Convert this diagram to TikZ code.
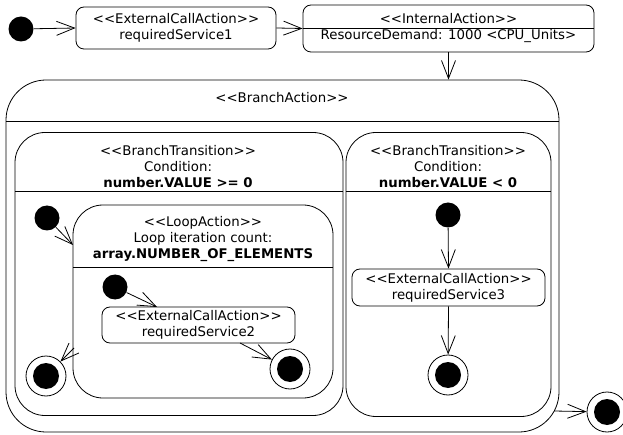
\documentclass[tikz,border=0pt]{standalone}
\usepackage{fontspec}
\setmainfont{DejaVu Sans}
\usetikzlibrary{arrows.meta}
\usetikzlibrary{positioning}

\newcommand{\stereo}[1]{<{}<#1>{}>}

\tikzset{
  initial/.style={circle, fill=black, minimum size=25pt, inner sep=0pt},
  final/.style={circle, draw, fill=white, minimum size=40pt, inner sep=0pt,
    path picture={\fill[black] (path picture bounding box.center) circle (13pt);}},
  action/.style={draw, rounded corners=8pt, align=center, inner sep=0pt},
  container/.style={draw, rounded corners=#1, inner sep=0pt},
  label/.style={align=center, inner sep=0pt},
  arr/.style={-{Straight Barb[length=18pt,width=14pt]}},
}

\begin{document}
\begin{tikzpicture}[x=1pt, y=-1pt, line width=0.8pt,
  font=\fontsize{13.3}{16}\selectfont]
		\useasboundingbox (0,0) rectangle (623,435);
		\node[container=40pt, minimum width=553pt, minimum height=352pt] (ba) at (282.5,256) {};
		\node[container=30pt, minimum width=328pt, minimum height=283pt] (btl) at (179,274) {};
		\node[container=30pt, minimum width=205pt, minimum height=284pt] (btr) at (448.5,274.5) {};
		\node[container=30pt, minimum width=260pt, minimum height=193pt] (la) at (203,301.5) {};
		\draw (6,121)--(559,121);
		\draw (15,191)--(343,191);
		\draw (346,191)--(551,191);
		\draw (73,267)--(333,267);
		\node[label] (batitle) at (282,98) {\stereo{BranchAction}};
		\node[label] (btltitle) at (178,167) {\stereo{BranchTransition}\\Condition:\\\textbf{number.VALUE >= 0}};
		\node[label] (btrtitle) at (448,167) {\stereo{BranchTransition}\\Condition:\\\textbf{number.VALUE < 0}};
		\node[label] (latitle) at (203,239) {\stereo{LoopAction}\\Loop iteration count:\\\textbf{array.NUMBER\_OF\_ELEMENTS}};
		\node[initial] (start) at (21,29) {};
		\node[action, minimum width=200pt, minimum height=42pt] (eca1) at (176,28) {\stereo{ExternalCallAction}\\requiredService1};
		\node[action, minimum width=291pt, minimum height=47pt] (ia) at (448.5,28.5) {\stereo{InternalAction}\\ResourceDemand: 1000 <CPU\_Units>};
		\draw (ia.west)--(ia.east);
		\node[initial] (init2) at (47,218) {};
		\node[final] (fin2) at (46,376) {};
		\node[initial] (init3) at (115,287) {};
		\node[action, minimum width=193pt, minimum height=36pt] (eca2) at (198.5,325) {\stereo{ExternalCallAction}\\requiredService2};
		\node[final] (fin3) at (290,369) {};
		\node[initial] (init4) at (448,215) {};
		\node[action, minimum width=193pt, minimum height=37pt] (eca3) at (448.5,287.5) {\stereo{ExternalCallAction}\\requiredService3};
		\node[final] (fin4) at (448,375) {};
		\node[final] (fin1) at (607,412) {};
		\coordinate (lain) at (73,245);
		\coordinate (laout) at (74,348);
		\coordinate (eca2in) at (157,307);
		\coordinate (eca2out) at (240,343);
		\coordinate (baout) at (554,411);
		\draw[arr] (start)--(eca1.west);
		\draw[arr] (eca1.east)--(ia.west);
		\draw[arr] (ia.south)--(ia.south |- ba.north);
		\draw[arr] (init2)--(lain);
		\draw[arr] (laout)--(fin2);
		\draw[arr] (init3)--(eca2in);
		\draw[arr] (eca2out)--(fin3);
		\draw[arr] (init4)--(eca3.north);
		\draw[arr] (eca3.south)--(fin4);
		\draw[arr] (baout)--(fin1);
		\end{tikzpicture}
\end{document}
